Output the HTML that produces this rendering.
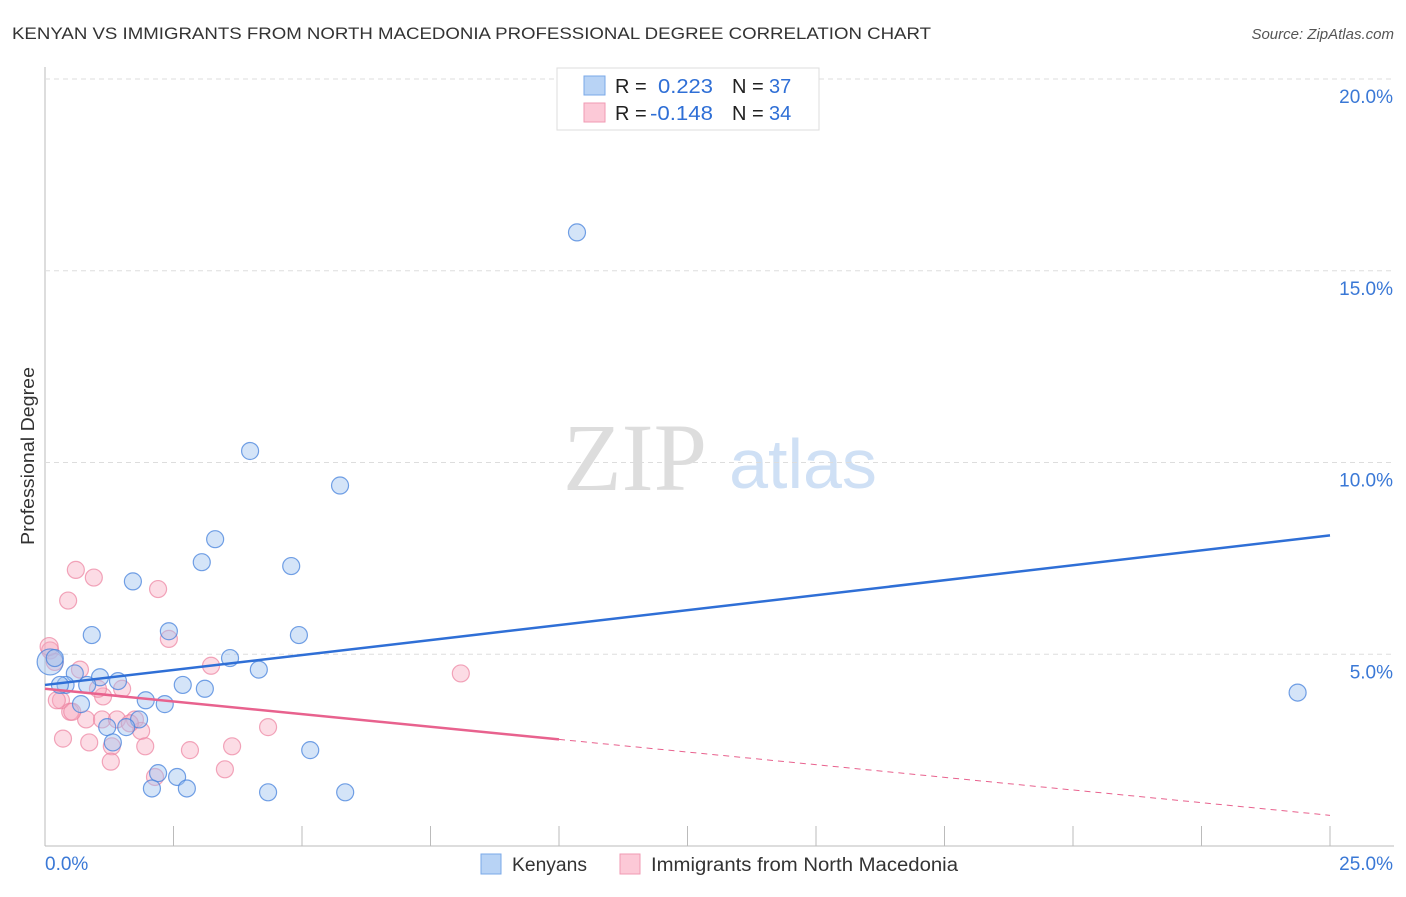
<!DOCTYPE html>
<html><head><meta charset="utf-8"><style>
body{margin:0;background:#fff;font-family:"Liberation Sans",sans-serif;}
</style></head><body>
<svg id="chart" width="1406" height="892" xmlns="http://www.w3.org/2000/svg" font-family="Liberation Sans, sans-serif">
<text x="12" y="39" font-size="17" fill="#333" textLength="919" lengthAdjust="spacingAndGlyphs">KENYAN VS IMMIGRANTS FROM NORTH MACEDONIA PROFESSIONAL DEGREE CORRELATION CHART</text>
<text x="1394" y="39" font-size="15" fill="#555" font-style="italic" text-anchor="end">Source: ZipAtlas.com</text>
<text x="34" y="456" font-size="18" fill="#333" text-anchor="middle" transform="rotate(-90 34 456)" textLength="178" lengthAdjust="spacingAndGlyphs">Professional Degree</text>
<g><text x="635" y="490" font-size="96" fill="#ddd" style="font-family:'Liberation Serif',serif" text-anchor="middle">ZIP</text><text x="803" y="488" font-size="70" fill="#cfe0f5" text-anchor="middle">atlas</text></g>
<g id="grid"></g><g id="marks"></g>
<g>
<rect x="557" y="68" width="262" height="62" fill="#fff" stroke="#ddd"/>
<rect x="584" y="76" width="21" height="19" fill="#b8d3f5" stroke="#7aa8e8"/>
<rect x="584" y="103" width="21" height="19" fill="#fcc9d7" stroke="#f09ab3"/>
<text x="615" y="93" font-size="20" fill="#222">R =</text><text x="658" y="93" font-size="20" fill="#2f6fd6" textLength="55" lengthAdjust="spacingAndGlyphs">0.223</text>
<text x="732" y="93" font-size="20" fill="#222">N =</text><text x="769" y="93" font-size="20" fill="#2f6fd6">37</text>
<text x="615" y="120" font-size="20" fill="#222">R =</text><text x="650" y="120" font-size="20" fill="#2f6fd6" textLength="63" lengthAdjust="spacingAndGlyphs">-0.148</text>
<text x="732" y="120" font-size="20" fill="#222">N =</text><text x="769" y="120" font-size="20" fill="#2f6fd6">34</text>
</g>
<g>
<rect x="481" y="854" width="20" height="20" fill="#b8d3f5" stroke="#7aa8e8"/>
<text x="512" y="871" font-size="19" fill="#333" textLength="75" lengthAdjust="spacingAndGlyphs">Kenyans</text>
<rect x="620" y="854" width="20" height="20" fill="#fcc9d7" stroke="#f09ab3"/>
<text x="651" y="871" font-size="19" fill="#333" textLength="307" lengthAdjust="spacingAndGlyphs">Immigrants from North Macedonia</text>
</g>
</svg>
<script>
const yTicks=[5,10,15,20];
const xTickLabels=["0.0%","25.0%"];
const kenX=[10.35,3.99,5.74,3.31,3.05,4.79,1.71,0.91,2.41,4.94,3.6,4.16,0.1,0.58,1.07,1.42,0.82,0.4,2.68,3.11,1.96,2.33,0.7,1.83,1.21,1.58,1.32,5.16,2.2,2.57,2.08,2.76,4.34,5.84,24.37,0.29,0.19];
const kenY=[16.0,10.3,9.4,8.0,7.4,7.3,6.9,5.5,5.6,5.5,4.9,4.6,4.8,4.5,4.4,4.3,4.2,4.2,4.2,4.1,3.8,3.7,3.7,3.3,3.1,3.1,2.7,2.5,1.9,1.8,1.5,1.5,1.4,1.4,4.0,4.2,4.9];
const macX=[0.6,0.95,0.45,2.2,2.41,3.23,8.09,0.68,0.1,0.19,0.31,1.13,1.5,0.23,0.49,0.8,1.11,1.4,1.75,1.87,4.34,0.35,0.86,1.3,1.95,2.82,3.64,1.28,3.5,2.14,0.08,1.03,0.53,1.65];
const macY=[7.2,7.0,6.4,6.7,5.4,4.7,4.5,4.6,5.1,4.8,3.8,3.9,4.1,3.8,3.5,3.3,3.3,3.3,3.3,3.0,3.1,2.8,2.7,2.6,2.6,2.5,2.6,2.2,2.0,1.8,5.2,4.1,3.5,3.2];
const blueLine=[4.2,8.1], pinkLine=[4.1,0.8];
const sx=v=>45+v*51.4, sy=v=>846-v*38.35;
const NS="http://www.w3.org/2000/svg";
const grid=document.getElementById('grid'), marks=document.getElementById('marks');
function mk(t,a,p){const e=document.createElementNS(NS,t);for(const k in a)e.setAttribute(k,a[k]);p.appendChild(e);return e;}
let ax=mk('line',{x1:45,y1:67,x2:45,y2:846,stroke:'#bbb'},grid);

let bx=mk('line',{x1:45,y1:846,x2:1394,y2:846,stroke:'#bbb'},grid);

for(let i=1;i<=10;i++){let t=mk('line',{x1:sx(i*2.5),y1:826,x2:sx(i*2.5),y2:846,stroke:'#bbb'},grid);
}
yTicks.forEach(v=>{let g=mk('line',{x1:45,y1:sy(v),x2:1394,y2:sy(v),stroke:'#ddd','stroke-dasharray':'5,4'},grid);

let t=mk('text',{x:1393,y:sy(v)+24,'font-size':19,fill:'#3a78d6','text-anchor':'end'},grid);t.textContent=v.toFixed(1)+'%';
});
let t0=mk('text',{x:45,y:870,'font-size':19,fill:'#3a78d6'},grid);t0.textContent=xTickLabels[0];

let t1=mk('text',{x:1393,y:870,'font-size':19,fill:'#3a78d6','text-anchor':'end'},grid);t1.textContent=xTickLabels[1];

macX.forEach((x,i)=>{let c=mk('circle',{cx:sx(x),cy:sy(macY[i]),r:i==30?9:8.5,fill:'rgba(248,168,190,0.4)',stroke:'rgba(236,130,160,0.7)','stroke-width':1.2},marks);
});
kenX.forEach((x,i)=>{let c=mk('circle',{cx:sx(x),cy:sy(kenY[i]),r:i==12?13:8.5,fill:'rgba(160,195,240,0.45)',stroke:'rgba(70,130,220,0.75)','stroke-width':1.2},marks);
});
const interp=(l,x)=>l[0]+(l[1]-l[0])*x/25;
let bl=mk('line',{x1:sx(0),y1:sy(blueLine[0]),x2:sx(25),y2:sy(blueLine[1]),stroke:'#2f6fd6','stroke-width':2.5},marks);

let pl=mk('line',{x1:sx(0),y1:sy(pinkLine[0]),x2:sx(10),y2:sy(interp(pinkLine,10)),stroke:'#e8628e','stroke-width':2.5},marks);

let pd=mk('line',{x1:sx(10),y1:sy(interp(pinkLine,10)),x2:sx(25),y2:sy(pinkLine[1]),stroke:'#e8628e','stroke-width':1,'stroke-dasharray':'6,5'},marks);

</script>
</body></html>
